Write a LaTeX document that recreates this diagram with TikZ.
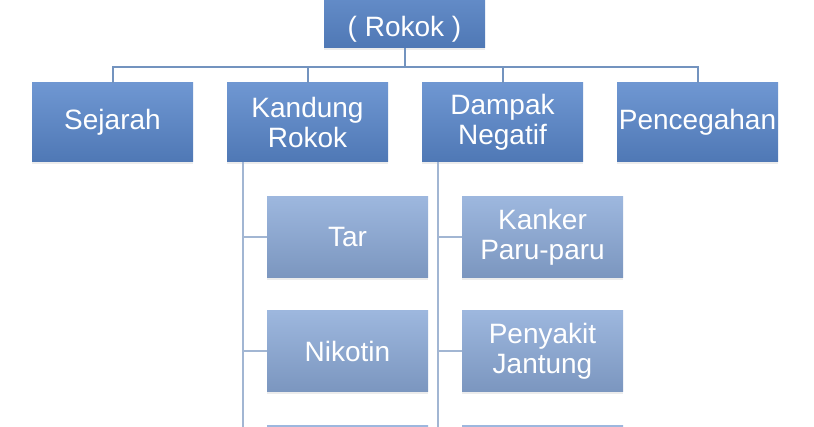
\documentclass[tikz,border=0pt]{standalone}
\usepackage{fontspec}
\setmainfont{Liberation Sans}
\usetikzlibrary{shadows}
\definecolor{topA}{HTML}{6F97D2}
\definecolor{botA}{HTML}{4F78B5}
\definecolor{topB}{HTML}{9DB7DE}
\definecolor{botB}{HTML}{7B96BF}
\definecolor{lineA}{HTML}{7393BF}
\definecolor{lineB}{HTML}{A2B6D3}
\begin{document}
\begin{tikzpicture}[x=1pt,y=-1pt,
  base/.style={rectangle, draw=none, text=white, inner sep=0pt, align=center,
    minimum width=161pt, font=\fontsize{28}{30}\selectfont,
    drop shadow={opacity=0.15, shadow xshift=0pt, shadow yshift=-2.5pt}},
  boxA/.style={base, minimum height=79pt, top color=topA, bottom color=botA},
  boxB/.style={base, minimum height=81pt, top color=topB, bottom color=botB},
  linkA/.style={draw=lineA, line width=2pt},
  linkB/.style={draw=lineB, line width=2pt}]
\path[use as bounding box, clip] (0,0) rectangle (814,427);
\fill[white] (0,0) rectangle (814,427);
% top box
\node[boxA, minimum height=79pt] (root) at (404.5,8.5) {};
\node[text=white, font=\fontsize{28}{30}\selectfont, inner sep=0pt] (roottext) at (404.5,29.5) {( Rokok )};
% level 2
\node[boxA] (sej) at (112.5,122.5) {Sejarah};
\node[boxA] (kan) at (307.5,122.5) {Kandung\\Rokok};
\node[boxA] (dam) at (502.5,122.5) {Dampak\\Negatif};
\node[boxA] (pen) at (697.5,122.5) {Pencegahan};
% level 3 left
\node[boxB] (tar) at (347.5,237.5) {Tar};
\node[boxB] (nik) at (347.5,351.5) {Nikotin};
\node[boxB] (k3) at (347.5,466.5) {};
% level 3 right
\node[boxB] (kpp) at (542.5,237.5) {Kanker\\Paru-paru};
\node[boxB] (pj) at (542.5,351.5) {Penyakit\\Jantung};
\node[boxB] (d3) at (542.5,466.5) {};
% bus
\coordinate (bus) at (404.5,67);
\path[linkA] (root.south) -- (bus);
\path[linkA] (bus) -| (sej.north);
\path[linkA] (bus) -| (kan.north);
\path[linkA] (bus) -| (dam.north);
\path[linkA] (bus) -| (pen.north);
% left branch
\coordinate (kl) at (243,162);
\coordinate (kend) at (243,430);
\path[linkB] (kl) -- (kend);
\path[linkB] (tar.west) -- (tar.west -| kl);
\path[linkB] (nik.west) -- (nik.west -| kl);
% right branch
\coordinate (dl) at (438,162);
\coordinate (dend) at (438,430);
\path[linkB] (dl) -- (dend);
\path[linkB] (kpp.west) -- (kpp.west -| dl);
\path[linkB] (pj.west) -- (pj.west -| dl);
\end{tikzpicture}
\end{document}
